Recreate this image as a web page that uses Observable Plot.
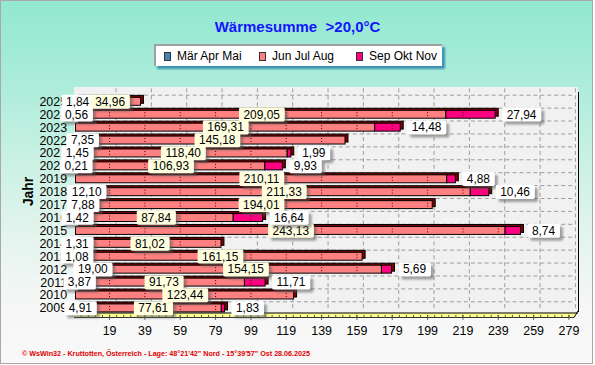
<!DOCTYPE html>
<html><head><meta charset="utf-8">
<script src="https://cdn.jsdelivr.net/npm/d3@7"></script>
<script src="https://cdn.jsdelivr.net/npm/@observablehq/plot@0.6"></script>
<style>
body{margin:0;background:#fff;}
#wrap{position:relative;width:591px;height:362px;border:1px solid #a8a8a8;overflow:hidden;
 background:linear-gradient(to bottom,#92e8d0 0%,#a8ecd8 20%,#c4f0e2 40%,#e4f4ee 65%,#f6f7f6 85%,#f8f8f8 100%);
 font-family:"Liberation Sans",Arial,sans-serif;}
#title{position:absolute;left:0;width:593px;top:17px;text-align:center;color:#1414ff;font-weight:bold;font-size:15px;}
#legend{position:absolute;left:153px;top:43px;width:286px;height:20px;background:#fff;border-left:2px solid #a0a0a0;border-top:2px solid #a0a0a0;box-shadow:3px 3px 2px #3c92b2;font-size:12px;}
#legend .it{position:absolute;top:3px;white-space:nowrap;}
#legend .sw{display:inline-block;width:5px;height:7px;border:1px solid #333;margin-right:6px;vertical-align:-1px;}
#bg,#chart svg{position:absolute;left:0;top:0;}
</style></head>
<body>
<div id="wrap">
 <svg id="bg" width="595" height="365"></svg>
 <div id="chart"></div>
 <div id="title">Wärmesumme&nbsp;&nbsp;&gt;20,0°C</div>
 <div id="legend"></div>
</div>
<script>
// ---- data ----
const years  = [2025,2024,2023,2022,2021,2020,2019,2018,2017,2016,2015,2014,2013,2012,2011,2010,2009];
const spring = [1.84,0.56,0,7.35,1.45,0.21,0,12.10,7.88,1.42,0,1.31,1.08,19.00,3.87,0,4.91];
const summer = [34.96,209.05,169.31,145.18,118.40,106.93,210.11,211.33,194.01,87.84,243.13,81.02,161.15,154.15,91.73,123.44,77.61];
const autumn = [0,27.94,14.48,0,1.99,9.93,4.88,10.46,0,16.64,8.74,0,0,5.69,11.71,0,1.83];
const seasons = ["Mär Apr Mai","Jun Jul Aug","Sep Okt Nov"];
const seasonColors = ["#4682b4","#ff8080","#ff0080"];
const xTicks = [19,39,59,79,99,119,139,159,179,199,219,239,259,279];
const minorTicks = d3.range(3, 283, 4);

// ---- derived tables ----
const rows = years.map((y,i)=>({year:String(y), spring:spring[i], summer:summer[i], autumn:autumn[i], total:spring[i]+summer[i]+autumn[i]}));
const long = rows.flatMap(r=>[
  {year:r.year, season:seasons[0], value:r.spring},
  {year:r.year, season:seasons[1], value:r.summer},
  {year:r.year, season:seasons[2], value:r.autumn}]).filter(d=>d.value>0);
const fmt = v => d3.format(".2f")(v).replace(".", ",");
const barTicks = rows.flatMap(r=>xTicks.filter(t=>t<r.total-1).map(t=>({year:r.year,t})));
const yRange=[88.7,320.3], step=(yRange[1]-yRange[0])/17.4;

const chart = Plot.plot({
  width:595, height:365,
  marginLeft:75, marginRight:18, marginTop:88, marginBottom:49,
  style:{background:"transparent", fontFamily:"Liberation Sans, Arial, sans-serif", fontSize:"12px", color:"#000", overflow:"visible"},
  x:{domain:[0,282.2], axis:null},
  y:{type:"band", domain:years.map(String), range:yRange, padding:0.4, axis:null},
  color:{domain:seasons, range:seasonColors},
  marks:[
    Plot.ruleY(years.map(String), {y:d=>d, dy:-step/2, insetLeft:6, stroke:"#9c9c9c", strokeDasharray:"4,3"}),
    Plot.ruleX(xTicks, {x:d=>d, dx:6.5, insetBottom:4, stroke:"#9c9c9c", strokeDasharray:"4,3"}),
    Plot.axisY({tickSize:0, tickPadding:9, label:null, fontSize:12.5}),
    Plot.axisX({ticks:minorTicks, tickSize:3, tickFormat:()=>"", label:null, stroke:"#555"}),
    Plot.axisX({ticks:xTicks, tickSize:5, tickPadding:6, label:null, fontSize:12.5, stroke:"#555"}),
    Plot.barX(rows, {x:"total", y:"year", dx:3, dy:-2, fill:"#7a0000", stroke:"#000", strokeWidth:1}),
    Plot.barX(long, {x:"value", y:"year", fill:"season", stroke:"#000", strokeWidth:1}),
    Plot.tickX(barTicks, {x:"t", y:"year", stroke:"#300", strokeDasharray:"1,2", insetTop:2, insetBottom:2}),
    Plot.text(rows.filter(r=>r.spring>0), {x:r=>r.spring/2, y:"year", text:r=>fmt(r.spring), ariaLabel:()=>"lbl-white"}),
    Plot.text(rows, {x:r=>r.spring+r.summer/2, y:"year", text:r=>fmt(r.summer), ariaLabel:()=>"lbl-cream"}),
    Plot.text(rows.filter(r=>r.autumn>0), {x:"total", y:"year", dx:11, textAnchor:"start", text:r=>fmt(r.autumn), ariaLabel:()=>"lbl-white"}),
    Plot.text(["Jahr"], {frameAnchor:"left", dx:-48, dy:4, rotate:-90, fontWeight:"bold", fontSize:14})
  ]
});
document.getElementById("chart").appendChild(chart);

// label boxes
const NS="http://www.w3.org/2000/svg";
const defs=document.createElementNS(NS,"defs");
defs.innerHTML='<filter id="sh" x="-20%" y="-20%" width="140%" height="160%"><feGaussianBlur stdDeviation="1.3"/></filter>';
chart.insertBefore(defs, chart.firstChild);
function boxes(label, fill){
  chart.querySelectorAll(`[aria-label="${label}"]`).forEach(t=>{
    if (t.tagName.toLowerCase()!=="text") return;
    const b=t.getBBox(), tr=t.getAttribute("transform");
    const mk=(dx,dy,f,filt)=>{const r=document.createElementNS(NS,"rect");
      r.setAttribute("x",b.x-4.5+dx); r.setAttribute("y",b.y+dy);
      r.setAttribute("width",b.width+9); r.setAttribute("height",b.height);
      r.setAttribute("rx",1.5); r.setAttribute("fill",f); r.setAttribute("stroke","none");
      if(filt) r.setAttribute("filter","url(#sh)"); if(tr) r.setAttribute("transform",tr);
      t.parentNode.insertBefore(r,t);};
    mk(3,3,"rgba(90,90,90,0.55)",true); mk(0,0,fill,false);
  });
}
boxes("lbl-white","#ffffff"); boxes("lbl-cream","#ffffe0");

// decorative panel (3D wall & floor) and footer
const bg=d3.select("#bg");
bg.append("rect").attr("x",73).attr("y",86).attr("width",504).attr("height",226).attr("fill","#f1f1f1");
bg.append("polygon").attr("points","73,312 577,312 577,310 573,316 73,316").attr("fill","#ffff90").attr("stroke","none");
bg.append("line").attr("x1",73).attr("x2",577).attr("y1",312).attr("y2",312).attr("stroke","#000");
bg.append("line").attr("x1",73).attr("x2",573).attr("y1",316.5).attr("y2",316.5).attr("stroke","#333");
bg.append("line").attr("x1",577).attr("x2",573).attr("y1",310).attr("y2",316.5).attr("stroke","#000");
bg.append("line").attr("x1",577.5).attr("x2",577.5).attr("y1",91).attr("y2",311).attr("stroke","#000");
bg.append("text").attr("x",21).attr("y",355).attr("fill","#e00000").attr("font-size",7).attr("font-weight","bold")
  .attr("font-family","Liberation Sans, Arial, sans-serif").attr("textLength",288).attr("lengthAdjust","spacingAndGlyphs")
  .text("© WsWin32 - Kruttotten, Österreich - Lage: 48°21'42\" Nord - 15°39'57\" Ost  28.06.2025");

// legend
const lg=document.getElementById("legend");
const lx=[8,103,200];
seasons.forEach((s,i)=>{const d=document.createElement("div");d.className="it";d.style.left=lx[i]+"px";
  d.innerHTML=`<span class="sw" style="background:${seasonColors[i]}"></span>${s}`;lg.appendChild(d);});
</script>
</body></html>
